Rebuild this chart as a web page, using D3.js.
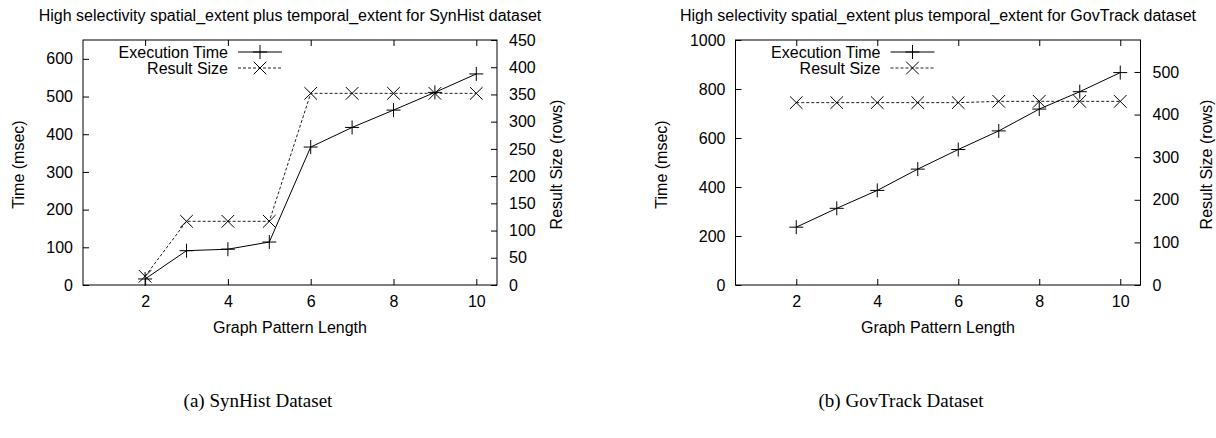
<!DOCTYPE html>
<html>
<head>
<meta charset="utf-8">
<script src="https://cdn.jsdelivr.net/npm/d3@7"></script>
<style>
  html, body { margin: 0; padding: 0; background: #fff; }
  svg { display: block; }
  text { font-family: "Liberation Sans", Arial, Helvetica, sans-serif; fill: #000; }
  .cap { font-family: "Liberation Serif", "DejaVu Serif", serif; }
</style>
</head>
<body>
<svg id="chart" width="1216" height="438"></svg>
<script>
// ---- Data ----
const patternLength = [2, 3, 4, 5, 6, 7, 8, 9, 10];
const xTicks = [2, 4, 6, 8, 10];

const synHistTime = [16, 91, 95, 114, 366, 418, 464, 511, 560];
const synHistSize = [16, 117, 117, 117, 352, 352, 352, 352, 352];
const synHistTimeTicks = [0, 100, 200, 300, 400, 500, 600];
const synHistSizeTicks = [0, 50, 100, 150, 200, 250, 300, 350, 400, 450];

const govTrackTime = [236, 313, 386, 473, 553, 629, 718, 789, 867];
const govTrackSize = [428, 428, 428, 428, 428, 431, 431, 431, 431];
const govTrackTimeTicks = [0, 200, 400, 600, 800, 1000];
const govTrackSizeTicks = [0, 100, 200, 300, 400, 500];

const seriesNames = ["Execution Time", "Result Size"];
const titles = [
  "High selectivity spatial_extent plus temporal_extent for SynHist dataset",
  "High selectivity spatial_extent plus temporal_extent for GovTrack dataset"
];
const captions = ["(a) SynHist Dataset", "(b) GovTrack Dataset"];
const xLabel = "Graph Pattern Length";
const yLabel = "Time (msec)";
const y2Label = "Result Size (rows)";

// ---- Drawing ----
const svg = d3.select("#chart");
const FS = 16;

const plusPath = "M-7,0H7M0,-7V7";
const crossPath = "M-6.3,-6.3L6.3,6.3M-6.3,6.3L6.3,-6.3";

function panel(cfg) {
  const g = svg.append("g");
  const x = d3.scaleLinear().domain([0.5, 10.5]).range([cfg.left, cfg.right]);
  const y = d3.scaleLinear().domain(cfg.yDomain).range([cfg.bottom, cfg.top]);
  const y2 = d3.scaleLinear().domain(cfg.y2Domain).range([cfg.bottom, cfg.top]);

  const styleAxis = sel => {
    sel.select(".domain").remove();
    sel.selectAll(".tick line").attr("stroke", "#000").attr("stroke-width", 1);
    sel.selectAll(".tick text").attr("font-size", FS).attr("fill", "#000")
      .style("font-family", '"Liberation Sans", Arial, sans-serif');
  };

  g.append("g").attr("transform", `translate(0,${cfg.bottom})`)
    .call(d3.axisBottom(x).tickValues(xTicks).tickSize(-6).tickPadding(11).tickFormat(d3.format("d")))
    .call(styleAxis);
  g.append("g").attr("transform", `translate(0,${cfg.top})`)
    .call(d3.axisTop(x).tickValues(xTicks).tickSize(-6).tickFormat(""))
    .call(styleAxis);
  g.append("g").attr("transform", `translate(${cfg.left},0)`)
    .call(d3.axisLeft(y).tickValues(cfg.yTicks).tickSize(-6).tickPadding(10).tickFormat(d3.format("d")))
    .call(styleAxis);
  g.append("g").attr("transform", `translate(${cfg.right},0)`)
    .call(d3.axisRight(y2).tickValues(cfg.y2Ticks).tickSize(-6).tickPadding(12).tickFormat(d3.format("d")))
    .call(styleAxis);

  g.append("rect")
    .attr("x", cfg.left).attr("y", cfg.top)
    .attr("width", cfg.right - cfg.left).attr("height", cfg.bottom - cfg.top)
    .attr("fill", "none").attr("stroke", "#000").attr("stroke-width", 1);

  // Lines
  const lineT = d3.line().x((d, i) => x(patternLength[i])).y(d => y(d));
  const lineS = d3.line().x((d, i) => x(patternLength[i])).y(d => y2(d));

  g.append("path").datum(cfg.size).attr("d", lineS)
    .attr("fill", "none").attr("stroke", "#222").attr("stroke-width", 1)
    .attr("stroke-dasharray", "3,2");
  g.append("path").datum(cfg.time).attr("d", lineT)
    .attr("fill", "none").attr("stroke", "#000").attr("stroke-width", 1);

  g.selectAll(".ms").data(cfg.size).join("path")
    .attr("transform", (d, i) => `translate(${x(patternLength[i])},${y2(d)})`)
    .attr("d", crossPath).attr("stroke", "#000").attr("stroke-width", 1).attr("fill", "none");
  g.selectAll(".mt").data(cfg.time).join("path")
    .attr("transform", (d, i) => `translate(${x(patternLength[i])},${y(d)})`)
    .attr("d", plusPath).attr("stroke", "#000").attr("stroke-width", 1).attr("fill", "none");

  // Legend
  const lx = cfg.left + 145;
  const legY = [52, 68];
  g.append("text").attr("x", lx).attr("y", legY[0]).attr("dy", "0.35em")
    .attr("text-anchor", "end").attr("font-size", FS).text(seriesNames[0]);
  g.append("line").attr("x1", lx + 10).attr("x2", lx + 54).attr("y1", legY[0]).attr("y2", legY[0])
    .attr("stroke", "#000");
  g.append("path").attr("transform", `translate(${lx + 32},${legY[0]})`).attr("d", plusPath)
    .attr("stroke", "#000").attr("fill", "none");
  g.append("text").attr("x", lx).attr("y", legY[1]).attr("dy", "0.35em")
    .attr("text-anchor", "end").attr("font-size", FS).text(seriesNames[1]);
  g.append("line").attr("x1", lx + 10).attr("x2", lx + 54).attr("y1", legY[1]).attr("y2", legY[1])
    .attr("stroke", "#222").attr("stroke-dasharray", "3,2");
  g.append("path").attr("transform", `translate(${lx + 32},${legY[1]})`).attr("d", crossPath)
    .attr("stroke", "#000").attr("fill", "none");

  // Labels
  const cx = (cfg.left + cfg.right) / 2;
  const cy = (cfg.top + cfg.bottom) / 2;
  g.append("text").attr("x", cx).attr("y", 15).attr("dy", "0.35em")
    .attr("text-anchor", "middle").attr("font-size", FS).text(cfg.title);
  g.append("text").attr("x", cx).attr("y", 327).attr("dy", "0.35em")
    .attr("text-anchor", "middle").attr("font-size", FS).text(xLabel);
  g.append("text").attr("transform", `translate(${cfg.yLabelX},${cy + 2}) rotate(-90)`)
    .attr("dy", "0.35em").attr("text-anchor", "middle").attr("font-size", FS).text(yLabel);
  g.append("text").attr("transform", `translate(${cfg.y2LabelX},${cy + 2}) rotate(-90)`)
    .attr("dy", "0.35em").attr("text-anchor", "middle").attr("font-size", FS).text(y2Label);

  g.append("text").attr("class", "cap").attr("x", cfg.capX).attr("y", 400).attr("dy", "0.35em")
    .attr("text-anchor", "middle").attr("font-size", 19).text(cfg.caption);
}

panel({
  left: 83, right: 497, top: 40, bottom: 285,
  yDomain: [0, 650], y2Domain: [0, 450],
  yTicks: synHistTimeTicks, y2Ticks: synHistSizeTicks,
  time: synHistTime, size: synHistSize,
  title: titles[0], caption: captions[0], capX: 258,
  yLabelX: 18, y2LabelX: 556
});

panel({
  left: 735.5, right: 1140.5, top: 40, bottom: 285,
  yDomain: [0, 1000], y2Domain: [0, 575],
  yTicks: govTrackTimeTicks, y2Ticks: govTrackSizeTicks,
  time: govTrackTime, size: govTrackSize,
  title: titles[1], caption: captions[1], capX: 901,
  yLabelX: 661, y2LabelX: 1206
});
</script>
</body>
</html>
